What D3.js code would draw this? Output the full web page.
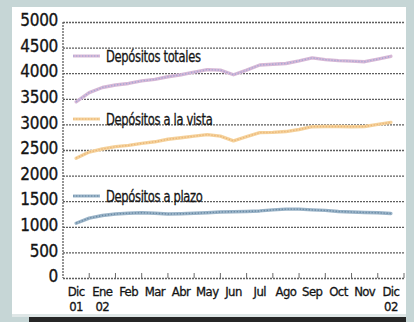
<!DOCTYPE html>
<html>
<head>
<meta charset="utf-8">
<script src="https://cdn.jsdelivr.net/npm/d3@7"></script>
<style>
  html, body { margin: 0; padding: 0; background: #c6d6d6; }
  svg { display: block; }
  text { font-family: "DejaVu Sans Condensed", "DejaVu Sans", sans-serif; fill: #141414; stroke: #141414; stroke-width: 0.3px; }
</style>
</head>
<body>
<svg id="chart" width="414" height="322"></svg>
<script>
// Month labels (two lines: month / year)
const months = ["Dic","Ene","Feb","Mar","Abr","May","Jun","Jul","Ago","Sep","Oct","Nov","Dic"];
const years  = ["01","02","","","","","","","","","","","02"];
const yTicks = [0,500,1000,1500,2000,2500,3000,3500,4000,4500,5000];

// Half-monthly observations, Dic 01 .. Dic 02 (millones)
const totales = [3440,3620,3720,3770,3800,3850,3880,3930,3970,4020,4070,4060,3970,
                 4060,4160,4175,4190,4240,4300,4265,4245,4235,4225,4275,4330];
const vista   = [2340,2460,2520,2565,2590,2630,2660,2710,2740,2770,2800,2770,2680,
                 2760,2840,2845,2860,2900,2955,2960,2960,2955,2960,3000,3040];
const plazo   = [1070,1170,1220,1250,1265,1275,1265,1250,1255,1265,1275,1290,1295,
                 1300,1310,1330,1345,1345,1330,1320,1300,1290,1280,1275,1260];

const seriesNames = ["Depósitos totales","Depósitos a la vista","Depósitos a plazo"];

const svg = d3.select("#chart");

// Panel background
svg.append("rect").attr("x",12).attr("y",7).attr("width",394).attr("height",307).attr("fill","#ffffff");
svg.append("rect").attr("x",12).attr("y",314).attr("width",394).attr("height",3).attr("fill","#dfe7e7");
svg.append("rect").attr("x",29).attr("y",317).attr("width",377).attr("height",5).attr("fill","#262626");

const plotLeft = 63, plotRight = 404, plotTop = 22, plotBottom = 278;

const y = d3.scaleLinear().domain([0,5000]).range([plotBottom, plotTop]);
const xBand = d3.scaleBand().domain(d3.range(months.length)).range([plotLeft, plotRight]).padding(0);
const xStep = d3.scaleLinear()
  .domain([0, totales.length - 1])
  .range([xBand(0) + xBand.bandwidth()/2, xBand(months.length-1) + xBand.bandwidth()/2]);

// Y axis with dotted gridlines
const yAxis = svg.append("g")
  .attr("transform", `translate(${plotLeft},0)`)
  .call(d3.axisLeft(y).tickValues(yTicks).tickSize(-(plotRight-plotLeft)).tickPadding(5).tickFormat(d3.format("d")));
yAxis.select(".domain").remove();
yAxis.selectAll(".tick line")
  .attr("stroke","#5e5e5e").attr("stroke-width",1.3).attr("stroke-dasharray","2,1");
yAxis.selectAll(".tick text")
  .attr("font-size",17).attr("letter-spacing","-0.3px").attr("dy","0.22em")
  .style("font-family","'DejaVu Sans Condensed', sans-serif").attr("fill","#141414");

// Left axis line (dotted)
svg.append("line").attr("x1",plotLeft).attr("x2",plotLeft).attr("y1",plotTop).attr("y2",plotBottom)
  .attr("stroke","#5e5e5e").attr("stroke-width",1.3).attr("stroke-dasharray","2,1");

// X axis: labels centred in month bands, small ticks at band edges
const xAxis = svg.append("g")
  .attr("transform", `translate(0,${plotBottom})`)
  .call(d3.axisBottom(xBand).tickSize(0).tickPadding(0).tickFormat(() => ""));
xAxis.select(".domain").remove();
xAxis.selectAll(".tick").each(function(d){
  const t = d3.select(this).append("text")
    .attr("text-anchor","middle").attr("font-size",13).attr("letter-spacing","-0.6px");
  t.append("tspan").attr("x",0).attr("y",18).text(months[d]);
  if (years[d]) t.append("tspan").attr("x",0).attr("y",33).text(years[d]);
});
svg.append("g").selectAll("line")
  .data(d3.range(1, months.length + 1))
  .join("line")
  .attr("x1", i => i < months.length ? xBand(i) : plotRight)
  .attr("x2", i => i < months.length ? xBand(i) : plotRight)
  .attr("y1", plotBottom - 5).attr("y2", plotBottom)
  .attr("stroke","#6a6a6a").attr("stroke-width",1);

// Series lines: soft base stroke with a beaded dotted overlay
const styles = [
  {data: totales, base: "#d7b8d6", dots: "#9aa2d6", ly: 56},
  {data: vista,   base: "#f5d29c", dots: "#e9ad6a", ly: 119},
  {data: plazo,   base: "#9bb4c8", dots: "#5d7f9c", ly: 196}
];
const line = d3.line().x((d,i) => xStep(i)).y(d => y(d)).curve(d3.curveLinear);

styles.forEach((s, k) => {
  svg.append("path").datum(s.data).attr("d", line)
    .attr("fill","none").attr("stroke", s.base).attr("stroke-width",3.4)
    .attr("stroke-linejoin","round").attr("stroke-linecap","round");
  svg.append("path").datum(s.data).attr("d", line)
    .attr("fill","none").attr("stroke", s.dots).attr("stroke-width",1.4)
    .attr("stroke-dasharray","1.3,1.7").attr("opacity",0.8);

  // inline legend
  svg.append("line").attr("x1",73).attr("x2",100).attr("y1",s.ly).attr("y2",s.ly)
    .attr("stroke", s.base).attr("stroke-width",3);
  svg.append("line").attr("x1",73).attr("x2",100).attr("y1",s.ly).attr("y2",s.ly)
    .attr("stroke", s.dots).attr("stroke-width",1.2).attr("stroke-dasharray","1.3,1.7");
  svg.append("text")
    .attr("transform", `translate(106,${s.ly}) scale(0.8,1)`)
    .attr("dy","0.35em").attr("font-size",16).attr("letter-spacing","-0.4px")
    .text(seriesNames[k]);
});
</script>
</body>
</html>
